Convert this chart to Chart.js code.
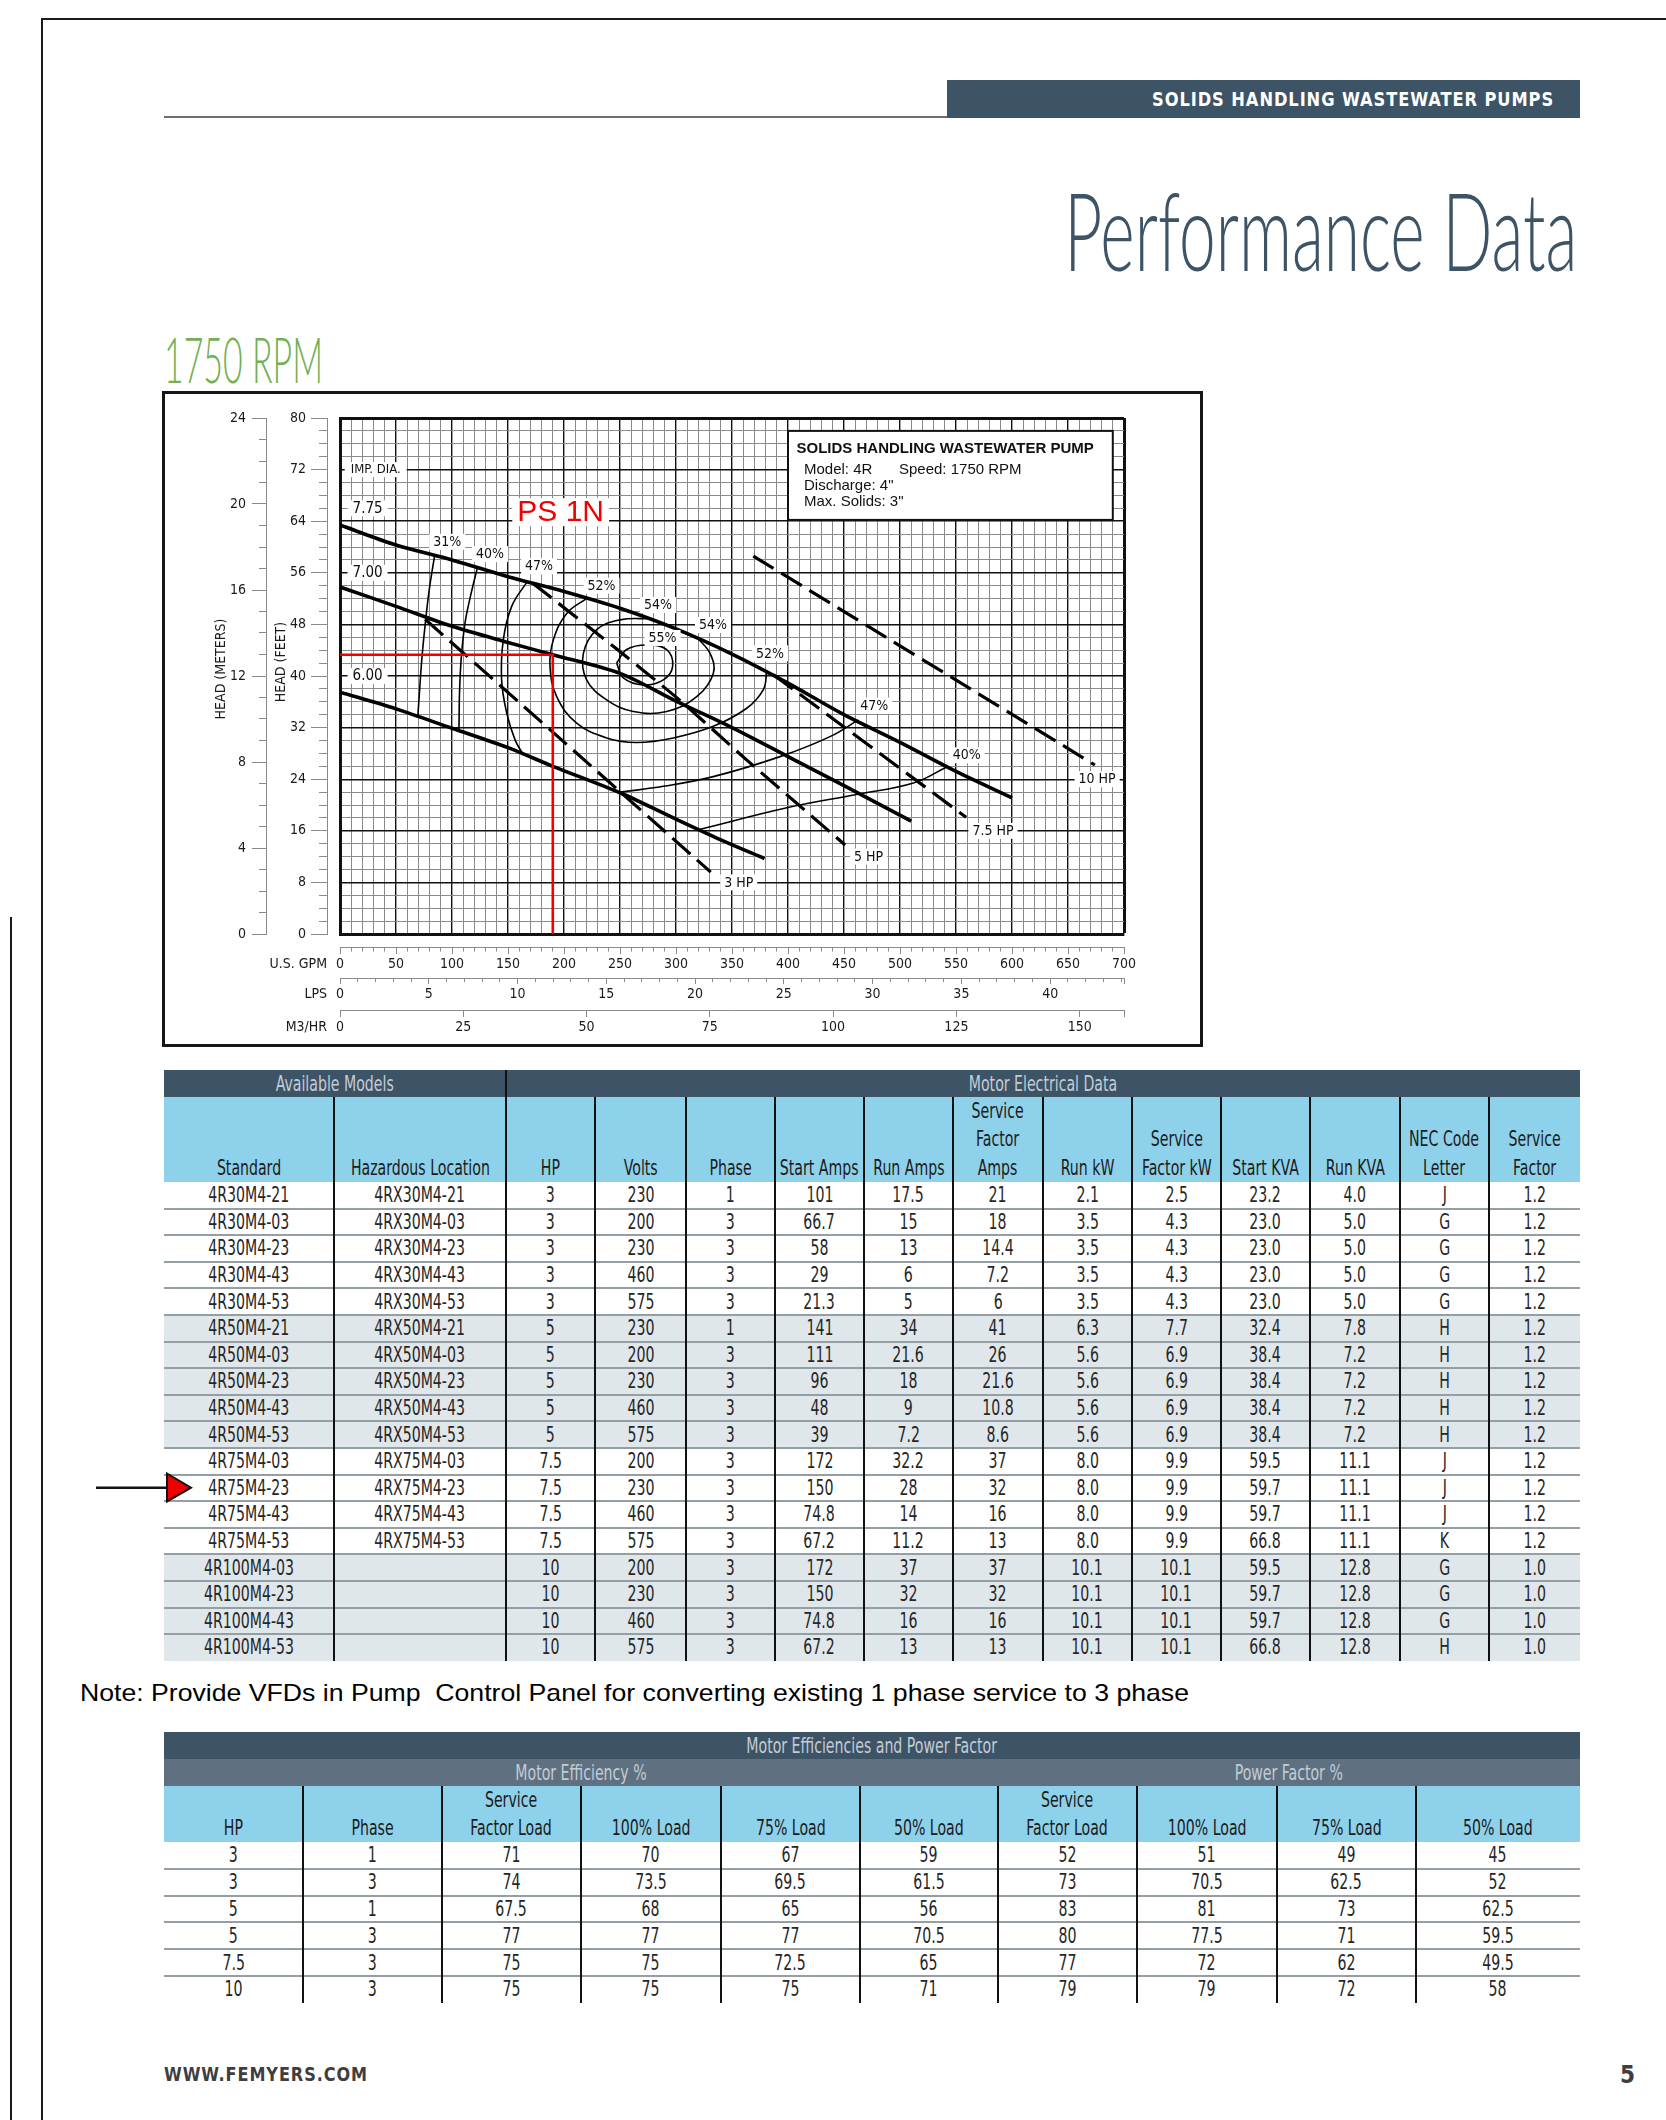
<!DOCTYPE html>
<html>
<head>
<meta charset="utf-8">
<title>Performance Data - 1750 RPM</title>
<script src="https://cdn.jsdelivr.net/npm/chart.js"></script>
<style>
  html, body { margin: 0; padding: 0; background: #fff; }
  body { width: 1666px; height: 2120px; position: relative; overflow: hidden; font-family: "Liberation Sans", Arial, sans-serif; }
  .abs { position: absolute; }
  .fit { position: absolute; white-space: pre; display: inline-block; line-height: 1; }
  .cell { position: absolute; display: flex; align-items: center; justify-content: center; line-height: 1; }
  .cell.bottom { align-items: flex-end; }
  .cell span { display: inline-block; white-space: pre; text-align: center; transform: scaleX(var(--sx, 0.86)); }
  #frame { position: absolute; left: 162px; top: 391px; width: 1041px; height: 656px; border: 3px solid #161616; box-sizing: border-box; }
  #chart { position: absolute; left: 0; top: 0; }
  #arrow { z-index: 5; }
</style>
</head>
<body>

<!-- page frame lines -->
<div class="abs" style="left:41px;top:18px;width:2px;height:2102px;background:#1a1a1a"></div>
<div class="abs" style="left:41px;top:18px;width:1625px;height:2px;background:#1a1a1a"></div>
<div class="abs" style="left:10px;top:917px;width:2px;height:1203px;background:#1a1a1a"></div>

<!-- header -->
<div class="abs" style="left:164px;top:116px;width:790px;height:2px;background:#6e6e6e"></div>
<div class="abs" style="left:947px;top:80px;width:633px;height:38px;background:#3d5366"></div>
<span id="band" class="fit" style="right:112px;top:89px;font-size:20px;font-weight:bold;color:#fff;letter-spacing:1px">SOLIDS HANDLING WASTEWATER PUMPS</span>
<span id="title" class="fit" style="right:89px;top:175px;font-size:108px;color:#3d5366">Performance Data</span>
<span id="rpm" class="fit" style="left:164px;top:327px;font-size:64px;color:#72b055">1750 RPM</span>

<!-- chart -->
<div id="frame"><canvas id="chart" width="1035" height="650"></canvas></div>

<!-- arrow pointing at the selected model -->
<svg id="arrow" class="abs" style="left:90px;top:1468px" width="112" height="40">
  <line x1="6" y1="19.7" x2="80" y2="19.7" stroke="#111" stroke-width="2.5"/>
  <polygon points="77,5.5 101,19.7 77,33.5" fill="#ee0000" stroke="#111" stroke-width="2"/>
</svg>

<span id="note" class="fit" style="left:80px;top:1681px;font-size:24px;color:#000">Note: Provide VFDs in Pump  Control Panel for converting existing 1 phase service to 3 phase</span>

<span id="web" class="fit" style="left:164px;top:2065px;font-size:19px;font-weight:bold;color:#3e3e3e;letter-spacing:1px">WWW.FEMYERS.COM</span>
<span id="pageno" class="fit" style="right:31px;top:2063px;font-size:24px;font-weight:bold;color:#3e3e3e">5</span>

<script>
// ---------- chart data (gpm, feet) ----------
const GPM_MAX = 700;
const FT_MAX = 80;
const M_MAX = 24;
const LPS_MAX = 44.16;
const M3H_MAX = 158.99;

// impeller curves
const IMP_775 = [[0,63.4],[50,60.3],[100,58.0],[150,55.4],[200,53.1],[250,50.5],[300,47.3],[350,43.4],[400,38.9],[450,34.0],[500,29.7],[550,25.2],[600,21.1]];
const IMP_700 = [[0,53.8],[50,50.8],[100,47.7],[150,45.2],[190,43.3],[250,40.4],[300,36.1],[350,32.0],[400,27.5],[450,23.0],[510,17.5]];
const IMP_600 = [[0,37.5],[50,34.9],[100,31.9],[150,28.9],[190,26.0],[250,21.9],[300,17.8],[340,14.6],[379,11.7]];

// horsepower lines
const HP_3 = [[76,48.8],[190,31.3],[331,9.6]];
const HP_5 = [[172,54.4],[244,44.6],[303,36.3],[363,27.0],[451,13.8]];
const HP_75 = [[387,40.2],[559,18.1]];
const HP_10 = [[369,58.6],[674,26.2]];

// efficiency contours
const EFF_31 = [[84.5,58.7],[79.7,53.4],[76.5,48.7],[73.3,43.1],[71.1,37.9],[69.5,33.7]];
const EFF_40L = [[122.7,56.8],[116.4,52.3],[111.6,48.2],[108.4,43.1],[106.8,37.9],[106.2,31.5]];
const EFF_47L = [[167,54.6],[153.3,50.8],[145.8,45.6],[144.3,39.4],[148.8,34.3],[156.3,30.1],[164,27.7]];
const EFF_52 = [[220,52.0],[202.4,49.7],[190.5,45.6],[187.5,41.5],[193.5,36.8],[211.3,32.7],[238.1,30.4],[264.9,29.7],[297.6,30.4],[333.3,32.2],[363.1,35.0],[378,37.9],[381,40.6]];
const EFF_54 = [[277,48.9],[250,48.7],[229.2,47.2],[217.3,43.5],[220.2,39.4],[238.1,36.3],[261.9,34.5],[291.7,34.5],[318.5,36.8],[333.3,40.4],[330.4,43.5],[318.5,46.0]];
const EFF_55 = [[247,42.0],[256,44.1],[273.8,44.8],[291.7,44.1],[297,41.5],[288.7,39.4],[270.8,38.6],[253,39.7],[247,42.0]];
const EFF_47R = [[251,22.0],[288.7,22.9],[333.3,24.4],[392.9,27.5],[437.5,30.6],[462.8,33.2]];
const EFF_40R = [[321,16.2],[400,19.6],[460,21.6],[512,23.4],[541.7,25.9]];

// duty point (red)
const DUTY_GPM = 190;
const DUTY_FT = 43.3;

// labels: text, gpm, feet
const EFF_LABELS = [['31%',95.7,60.8],['40%',134,58.9],['47%',177.7,57.0],['52%',233.5,54.0],['54%',284,51.0],['54%',333,47.9],['55%',288,45.9],['52%',384,43.5],['47%',477,35.4],['40%',559.5,27.7]];
const HP_LABELS = [['3 HP',356,8],['5 HP',472,12],['7.5 HP',583,16],['10 HP',676,24]];
const DIA_LABELS = [['7.75',11.2,66],['7.00',11.2,56],['6.00',11.2,40]];
const DIA_TITLE = ['IMP. DIA.',9.6,72];
const INFO_TITLE = 'SOLIDS HANDLING WASTEWATER PUMP';
const INFO_LINES = [['Model: 4R','Speed: 1750 RPM'],['Discharge: 4"',''],['Max. Solids: 3"','']];

// ---------- table data ----------
const MODEL_HEAD = ['Standard','Hazardous Location','HP','Volts','Phase','Start Amps','Run Amps','Service\nFactor\nAmps','Run kW','Service\nFactor kW','Start KVA','Run KVA','NEC Code\nLetter','Service\nFactor'];
const MODEL_ROWS = [
  ['4R30M4-21','4RX30M4-21','3','230','1','101','17.5','21','2.1','2.5','23.2','4.0','J','1.2'],
  ['4R30M4-03','4RX30M4-03','3','200','3','66.7','15','18','3.5','4.3','23.0','5.0','G','1.2'],
  ['4R30M4-23','4RX30M4-23','3','230','3','58','13','14.4','3.5','4.3','23.0','5.0','G','1.2'],
  ['4R30M4-43','4RX30M4-43','3','460','3','29','6','7.2','3.5','4.3','23.0','5.0','G','1.2'],
  ['4R30M4-53','4RX30M4-53','3','575','3','21.3','5','6','3.5','4.3','23.0','5.0','G','1.2'],
  ['4R50M4-21','4RX50M4-21','5','230','1','141','34','41','6.3','7.7','32.4','7.8','H','1.2'],
  ['4R50M4-03','4RX50M4-03','5','200','3','111','21.6','26','5.6','6.9','38.4','7.2','H','1.2'],
  ['4R50M4-23','4RX50M4-23','5','230','3','96','18','21.6','5.6','6.9','38.4','7.2','H','1.2'],
  ['4R50M4-43','4RX50M4-43','5','460','3','48','9','10.8','5.6','6.9','38.4','7.2','H','1.2'],
  ['4R50M4-53','4RX50M4-53','5','575','3','39','7.2','8.6','5.6','6.9','38.4','7.2','H','1.2'],
  ['4R75M4-03','4RX75M4-03','7.5','200','3','172','32.2','37','8.0','9.9','59.5','11.1','J','1.2'],
  ['4R75M4-23','4RX75M4-23','7.5','230','3','150','28','32','8.0','9.9','59.7','11.1','J','1.2'],
  ['4R75M4-43','4RX75M4-43','7.5','460','3','74.8','14','16','8.0','9.9','59.7','11.1','J','1.2'],
  ['4R75M4-53','4RX75M4-53','7.5','575','3','67.2','11.2','13','8.0','9.9','66.8','11.1','K','1.2'],
  ['4R100M4-03','','10','200','3','172','37','37','10.1','10.1','59.5','12.8','G','1.0'],
  ['4R100M4-23','','10','230','3','150','32','32','10.1','10.1','59.7','12.8','G','1.0'],
  ['4R100M4-43','','10','460','3','74.8','16','16','10.1','10.1','59.7','12.8','G','1.0'],
  ['4R100M4-53','','10','575','3','67.2','13','13','10.1','10.1','66.8','12.8','H','1.0']
];
const SHADED_HP = ['5','10'];

const EFF_HEAD = ['HP','Phase','Service\nFactor Load','100% Load','75% Load','50% Load','Service\nFactor Load','100% Load','75% Load','50% Load'];
const EFF_ROWS = [
  ['3','1','71','70','67','59','52','51','49','45'],
  ['3','3','74','73.5','69.5','61.5','73','70.5','62.5','52'],
  ['5','1','67.5','68','65','56','83','81','73','62.5'],
  ['5','3','77','77','77','70.5','80','77.5','71','59.5'],
  ['7.5','3','75','75','72.5','65','77','72','62','49.5'],
  ['10','3','75','75','75','71','79','79','72','58']
];

// ---------- fonts ----------
function hasFont(name) {
  const c = document.createElement('canvas').getContext('2d');
  const probe = 'abcdefghijklmnopqrstuvwxyz0123456789ABCDEFGHIJ';
  c.font = '40px monospace';
  const a = c.measureText(probe).width;
  c.font = '40px "' + name + '", monospace';
  return Math.abs(c.measureText(probe).width - a) > 0.5;
}
const NARROW = ['Liberation Sans Narrow', 'DejaVu Sans Condensed', 'Arial Narrow'].find(hasFont) || 'Liberation Sans';
const NARROW_CSS = '"' + NARROW + '", "Liberation Sans", sans-serif';
const CS = NARROW === 'Liberation Sans' ? 12 : 14;

function measure(text, font) {
  const c = document.createElement('canvas').getContext('2d');
  c.font = font;
  return c.measureText(text).width;
}
document.documentElement.style.setProperty('--sx', (81 / measure('4R75M4-03', '22px ' + NARROW_CSS)).toFixed(4));

function fit(id, w, origin) {
  const e = document.getElementById(id);
  const nat = e.getBoundingClientRect().width;
  e.style.transformOrigin = origin;
  e.style.transform = 'scaleX(' + (w / nat).toFixed(4) + ')';
}
['band', 'web', 'pageno'].forEach(id => { document.getElementById(id).style.fontFamily = NARROW_CSS; });
// thin display face for the big headings
['title', 'rpm'].forEach(id => {
  const e = document.getElementById(id);
  e.style.fontFamily = 'Lato, "Liberation Sans", sans-serif';
  e.style.fontWeight = '300';
});
fit('band', 402, 'right');
fit('title', 513, 'right');
fit('rpm', 159, 'left');
fit('note', 1109, 'left');
fit('web', 204, 'left');

// ---------- tables ----------
function rect(x, y, w, h, bg) {
  const d = document.createElement('div');
  d.className = 'abs';
  Object.assign(d.style, { left: x + 'px', top: y + 'px', width: w + 'px', height: h + 'px', background: bg });
  document.body.appendChild(d);
  return d;
}
function cell(x0, x1, y0, y1, text, color, bottom, lh) {
  const d = document.createElement('div');
  d.className = 'cell' + (bottom ? ' bottom' : '');
  Object.assign(d.style, {
    left: x0 + 'px', top: y0 + 'px', width: (x1 - x0) + 'px', height: (y1 - y0) + 'px',
    color: color, fontSize: '22px', fontFamily: NARROW_CSS, lineHeight: (lh || 22) + 'px'
  });
  const s = document.createElement('span');
  s.textContent = text;
  d.appendChild(s);
  document.body.appendChild(d);
}

const DARK = '#3d5366', MID = '#5f7181', LIGHT = '#8ed1ea', SHADE = '#dfe7eb';
const HEAD_TXT = '#c3ccd4', BODY_TXT = '#262626', SEP = '#949ea5';

// Available models / motor electrical data
(function () {
  const cx = [164, 334, 506, 595, 686, 775, 864, 953, 1043, 1132, 1221, 1310, 1400, 1489, 1580];
  const yTop = 1070, yHead = 1097, yBody = 1182, rh = 26.6;
  const yEnd = yBody + rh * MODEL_ROWS.length;
  rect(164, yTop, 1416, yHead - yTop, DARK);
  cell(164, 506, yTop, yHead, 'Available Models', HEAD_TXT);
  cell(506, 1580, yTop, yHead, 'Motor Electrical Data', HEAD_TXT);
  rect(164, yHead, 1416, yBody - yHead, LIGHT);
  MODEL_HEAD.forEach((t, i) => cell(cx[i], cx[i + 1], yHead, yBody, t, '#1c1c1c', true, 28.5));
  MODEL_ROWS.forEach((row, r) => {
    const y0 = yBody + r * rh;
    rect(164, y0, 1416, rh, SHADED_HP.includes(row[2]) ? SHADE : '#fff');
    if (r > 0) rect(164, y0 - 1, 1416, 2, SEP);
    row.forEach((t, i) => cell(cx[i], cx[i + 1], y0, y0 + rh, t, BODY_TXT));
  });
  for (let i = 1; i < cx.length - 1; i++) {
    const y0 = i === 2 ? yTop : yHead;
    rect(cx[i] - 1.25, y0, 2.5, yEnd - y0, '#111');
  }
})();

// Motor efficiencies and power factor
(function () {
  const cx = [164, 303, 442, 581, 721, 860, 998, 1137, 1277, 1416, 1580];
  const y0 = 1732, y1 = 1759, y2 = 1786, yBody = 1842, rh = 26.8;
  const yEnd = yBody + rh * EFF_ROWS.length;
  rect(164, y0, 1416, y1 - y0, DARK);
  cell(164, 1580, y0, y1, 'Motor Efficiencies and Power Factor', HEAD_TXT);
  rect(164, y1, 1416, y2 - y1, MID);
  cell(164, 998, y1, y2, 'Motor Efficiency %', HEAD_TXT);
  cell(998, 1580, y1, y2, 'Power Factor %', HEAD_TXT);
  rect(164, y2, 1416, yBody - y2, LIGHT);
  EFF_HEAD.forEach((t, i) => cell(cx[i], cx[i + 1], y2, yBody, t, '#1c1c1c', true, 28));
  EFF_ROWS.forEach((row, r) => {
    const ry = yBody + r * rh;
    if (r > 0) rect(164, ry - 1, 1416, 2, SEP);
    row.forEach((t, i) => cell(cx[i], cx[i + 1], ry, ry + rh, t, BODY_TXT));
  });
  for (let i = 1; i < cx.length - 1; i++) rect(cx[i] - 1.25, y2, 2.5, yEnd - y2, '#111');
})();

// ---------- chart ----------
const toXY = pts => pts.map(([x, y]) => ({ x, y }));
const curve = (pts, width, dash, tension) => ({
  data: toXY(pts), showLine: true, borderColor: '#000', borderWidth: width,
  borderDash: dash, tension: tension, pointRadius: 0, fill: false
});

const datasets = [
  { data: toXY([[0, DUTY_FT], [DUTY_GPM, DUTY_FT], [DUTY_GPM, 0]]), showLine: true, borderColor: '#f20000', borderWidth: 2.6, tension: 0, pointRadius: 0 },
  ...[IMP_775, IMP_700, IMP_600].map(p => curve(p, 3.6, [], 0.3)),
  ...[HP_3, HP_5, HP_75, HP_10].map(p => curve(p, 3.2, [24, 9], 0.2)),
  ...[EFF_31, EFF_40L, EFF_47L, EFF_52, EFF_54, EFF_55, EFF_47R, EFF_40R].map(p => curve(p, 1.6, [], 0.4))
];

function stepTicks(step) {
  return scale => {
    const t = [];
    for (let v = 0; v <= scale.max + 1e-9; v += step) t.push({ value: Math.round(v * 1000) / 1000 });
    if (t[t.length - 1].value < scale.max - 1e-6) t.push({ value: scale.max });
    scale.ticks = t;
  };
}
const isMult = (v, m) => Math.abs(v / m - Math.round(v / m)) < 1e-6;
const tickFont = { family: NARROW_CSS, size: CS };

const plotGrid = (major, maxV) => ({
  drawTicks: false,
  color: c => (isMult(c.tick.value, major) ? '#111' : '#8a8a8a'),
  lineWidth: c => (c.tick.value === maxV ? 3 : isMult(c.tick.value, major) ? 1.4 : 1)
});

function bottomAxis(max, step, labelEvery, tl, minorLen, h, weight) {
  return {
    type: 'linear', position: 'bottom', min: 0, max: max, weight: weight,
    afterBuildTicks: stepTicks(step),
    afterFit: s => { s.height = h; },
    ticks: { autoSkip: false, maxRotation: 0, minRotation: 0, padding: 2, color: '#1a1a1a', font: tickFont,
      callback: v => (isMult(v, labelEvery) ? String(Math.round(v)) : '') },
    grid: { drawOnChartArea: false, tickLength: tl, color: '#8a8a8a', tickWidth: 1,
      tickBorderDash: c => (isMult(c.tick.value, labelEvery) || c.tick.value === max ? [] : [minorLen, 100]) },
    border: { display: true, color: '#8a8a8a', width: 1 }
  };
}
function leftAxis(max, step, labelEvery, tl, minorLen, w, weight, pad) {
  return {
    type: 'linear', position: 'left', min: 0, max: max, weight: weight,
    afterBuildTicks: stepTicks(step),
    afterFit: s => { s.width = w; },
    ticks: { autoSkip: false, padding: pad, color: '#1a1a1a', font: tickFont,
      callback: v => (isMult(v, labelEvery) ? String(Math.round(v)) : '') },
    grid: { drawOnChartArea: false, tickLength: tl, color: '#8a8a8a', tickWidth: 1,
      tickBorderDash: c => (isMult(c.tick.value, labelEvery) ? [] : [0, tl - minorLen, minorLen, 100]) },
    border: { display: true, color: '#8a8a8a', width: 1 }
  };
}

function tag(ctx, text, px, py, font, color, align, padX, h) {
  ctx.font = font;
  const w = ctx.measureText(text).width;
  const left = align === 'left' ? px : px - w / 2;
  ctx.fillStyle = '#fff';
  ctx.fillRect(left - padX, py - h / 2, w + padX * 2, h);
  ctx.fillStyle = color;
  ctx.textAlign = 'left';
  ctx.textBaseline = 'middle';
  ctx.fillText(text, left, py + 0.5);
}

const annotations = {
  id: 'annotations',
  afterDatasetsDraw(chart) {
    const { ctx } = chart;
    const x = chart.scales.x, y = chart.scales.y;
    const nf = s => s + 'px ' + NARROW_CSS;
    ctx.save();
    tag(ctx, DIA_TITLE[0], x.getPixelForValue(DIA_TITLE[1]), y.getPixelForValue(DIA_TITLE[2]), nf(CS - 1), '#111', 'left', 6, 15);
    DIA_LABELS.forEach(([t, gx, gy]) => tag(ctx, t, x.getPixelForValue(gx), y.getPixelForValue(gy), nf(CS + 1), '#111', 'left', 5, 16));
    EFF_LABELS.forEach(([t, gx, gy]) => tag(ctx, t, x.getPixelForValue(gx), y.getPixelForValue(gy), nf(CS), '#111', 'center', 4, 16));
    HP_LABELS.forEach(([t, gx, gy]) => tag(ctx, t, x.getPixelForValue(gx), y.getPixelForValue(gy), nf(CS), '#111', 'center', 4, 16));
    tag(ctx, 'PS 1N', x.getPixelForValue(197), y.getPixelForValue(65.4), '30px "Liberation Sans", Arial, sans-serif', '#f00000', 'center', 5, 28);

    // info box
    const bx0 = x.getPixelForValue(400), bx1 = x.getPixelForValue(690);
    const by0 = y.getPixelForValue(78), by1 = y.getPixelForValue(64.2);
    ctx.fillStyle = '#fff';
    ctx.fillRect(bx0, by0, bx1 - bx0, by1 - by0);
    ctx.strokeStyle = '#111';
    ctx.lineWidth = 2;
    ctx.strokeRect(bx0, by0, bx1 - bx0, by1 - by0);
    ctx.fillStyle = '#111';
    ctx.textBaseline = 'middle';
    ctx.textAlign = 'left';
    ctx.font = 'bold 15px "Liberation Sans", Arial, sans-serif';
    ctx.fillText(INFO_TITLE, bx0 + 8.5, by0 + 18, bx1 - bx0 - 14);
    ctx.font = '15px "Liberation Sans", Arial, sans-serif';
    INFO_LINES.forEach(([a, b], i) => {
      const ly = by0 + 38.5 + i * 16.4;
      ctx.fillText(a, bx0 + 16, ly);
      if (b) ctx.fillText(b, bx0 + 111, ly);
    });
    ctx.restore();
  },
  afterDraw(chart) {
    const { ctx, chartArea } = chart;
    const s = chart.scales;
    ctx.save();
    ctx.fillStyle = '#1a1a1a';
    ctx.font = CS + 'px ' + NARROW_CSS;
    ctx.textBaseline = 'middle';
    ctx.textAlign = 'right';
    [['xGpm', 'U.S. GPM', 7], ['xLps', 'LPS', 6], ['xM3', 'M3/HR', 7]].forEach(([id, t, tl]) => {
      ctx.fillText(t, chartArea.left - 13, s[id].top + tl + 2 + CS * 0.6);
    });
    ctx.textAlign = 'center';
    const titles = [[s.yFt.left + 15, chartArea.top + 244, 'HEAD (FEET)'], [s.yM.right - 45, chartArea.top + 251, 'HEAD (METERS)']];
    titles.forEach(([tx, ty, t]) => {
      ctx.save();
      ctx.translate(tx, ty);
      ctx.rotate(-Math.PI / 2);
      ctx.fillText(t, 0, 0);
      ctx.restore();
    });
    ctx.restore();
  }
};

new Chart(document.getElementById('chart'), {
  type: 'scatter',
  data: { datasets: datasets },
  options: {
    responsive: false,
    animation: false,
    devicePixelRatio: 1,
    layout: { padding: { top: 24, right: 76, left: 0, bottom: 0 } },
    plugins: { legend: { display: false }, tooltip: { enabled: false } },
    elements: { point: { radius: 0 } },
    scales: {
      x: {
        type: 'linear', position: 'bottom', min: 0, max: GPM_MAX, weight: 0,
        afterBuildTicks: stepTicks(10),
        afterFit: s => { s.height = 13; },
        ticks: { display: false },
        grid: plotGrid(50, GPM_MAX),
        border: { display: true, color: '#111', width: 3 }
      },
      xGpm: bottomAxis(GPM_MAX, 10, 50, 7, 3.5, 31, 1),
      xLps: bottomAxis(LPS_MAX, 1, 5, 6, 3, 32, 2),
      xM3: bottomAxis(M3H_MAX, 25, 25, 7, 7, 34, 3),
      y: {
        type: 'linear', position: 'left', min: 0, max: FT_MAX, weight: 0,
        afterBuildTicks: stepTicks(2),
        afterFit: s => { s.width = 13; },
        ticks: { display: false },
        grid: plotGrid(8, FT_MAX),
        border: { display: true, color: '#111', width: 3 }
      },
      yFt: leftAxis(FT_MAX, 2, 8, 16, 8, 61, 1, 5),
      yM: leftAxis(M_MAX, 1, 4, 14, 7, 101, 2, 6)
    }
  },
  plugins: [annotations]
});
</script>
</body>
</html>
